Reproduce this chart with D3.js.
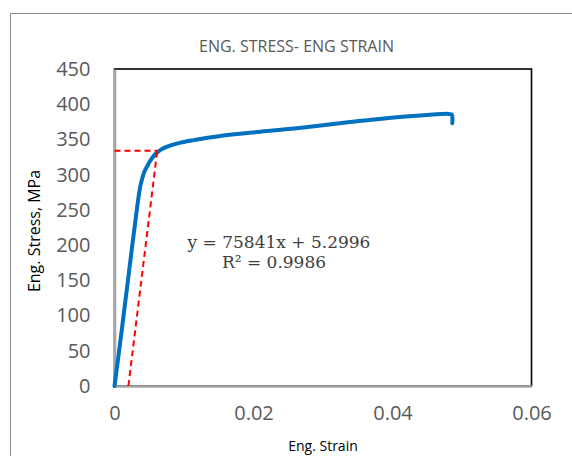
<!DOCTYPE html>
<html>
<head>
<meta charset="utf-8">
<script src="https://cdn.jsdelivr.net/npm/d3@7"></script>
<style>
  body { margin: 0; background: #fff; }
  svg { display: block; }
</style>
</head>
<body>
<script>
// engineering stress-strain curve
const strain = [0, 0.00086, 0.00206, 0.00326, 0.0037, 0.0040, 0.0043, 0.0047, 0.0051, 0.0056, 0.0061, 0.0067, 0.0074, 0.0082, 0.0095, 0.0114, 0.0152, 0.021, 0.0268, 0.0306, 0.0355, 0.0402, 0.0445, 0.0469, 0.0478, 0.0485, 0.0486, 0.0486];
const stress = [0, 65, 160, 254, 283, 295, 304, 312, 319, 326, 331, 335.5, 339, 342, 345.5, 349, 355, 361, 366.5, 371, 376.5, 381, 384.5, 386, 386.3, 385.5, 383, 373];

// 0.2% offset line and yield level
const offsetStrain = [0.002, 0.00615];
const offsetStress = [0, 334];
const yieldStrain = [0, 0.00615];
const yieldStress = [334, 334];

const xTicks = [0, 0.02, 0.04, 0.06];
const yTicks = [0, 50, 100, 150, 200, 250, 300, 350, 400, 450];
const fitLines = ["y = 75841x + 5.2996", "R\u00b2 = 0.9986"];

const width = 572, height = 456;
const plotL = 114.5, plotR = 531.5, plotT = 69, plotB = 386;

const x = d3.scaleLinear().domain([0, 0.06]).range([plotL, plotR]);
const y = d3.scaleLinear().domain([0, 450]).range([plotB, plotT]);

const svg = d3.select("body").append("svg")
    .attr("width", width)
    .attr("height", height);

// outer chart frame (cropped on right and bottom)
svg.append("path")
    .attr("d", `M10.5,${height}V13.5H${width}`)
    .attr("fill", "none")
    .attr("stroke", "#8c8c8c")
    .attr("stroke-width", 1);

svg.append("text")
    .attr("x", 296.5)
    .attr("y", 52)
    .attr("text-anchor", "middle")
    .style("font", "16px 'Open Sans'")
    .attr("fill", "#595959")
    .text("ENG. STRESS- ENG STRAIN");

// plot area box
svg.append("rect")
    .attr("x", plotL).attr("y", plotT)
    .attr("width", plotR - plotL).attr("height", plotB - plotT)
    .attr("fill", "none")
    .attr("stroke", "#000")
    .attr("stroke-width", 1.6);

// axes
const yAxis = svg.append("g")
    .attr("transform", `translate(${plotL},0)`)
    .call(d3.axisLeft(y).tickValues(yTicks).tickSize(0).tickPadding(24).tickFormat(d3.format("d")));
yAxis.select(".domain").attr("stroke", "#a6a6a6").attr("stroke-width", 2.6);
yAxis.selectAll("text")
    .style("font", "20px 'Open Sans'")
    .attr("fill", "#595959");

const xAxis = svg.append("g")
    .attr("transform", `translate(0,${plotB})`)
    .call(d3.axisBottom(x).tickValues(xTicks).tickSize(0).tickPadding(20).tickFormat(d => d === 0 ? "0" : d3.format(".2f")(d)));
xAxis.select(".domain").attr("stroke", "#a6a6a6").attr("stroke-width", 2.6);
xAxis.selectAll("text")
    .style("font", "20px 'Open Sans'")
    .attr("fill", "#595959");

// axis titles
svg.append("text")
    .attr("x", (plotL + plotR) / 2)
    .attr("y", 451)
    .attr("text-anchor", "middle")
    .style("font", "14px 'Open Sans'")
    .attr("fill", "#000")
    .text("Eng. Strain");

svg.append("text")
    .attr("transform", `translate(40,231) rotate(-90)`)
    .attr("text-anchor", "middle")
    .style("font", "16px 'Open Sans'")
    .attr("fill", "#000")
    .text("Eng. Stress, MPa");

// curve
const line = d3.line()
    .x(i => x(strain[i]))
    .y(i => y(stress[i]))
    .curve(d3.curveCatmullRom.alpha(0.5));

svg.append("path")
    .attr("d", line(d3.range(strain.length)))
    .attr("fill", "none")
    .attr("stroke", "#0070c0")
    .attr("stroke-width", 4)
    .attr("stroke-linecap", "round")
    .attr("stroke-linejoin", "round");

// red dashed construction lines
const seg = d3.line().x(d => x(d[0])).y(d => y(d[1]));
[[yieldStrain, yieldStress], [offsetStrain, offsetStress]].forEach(([xs, ys]) => {
  svg.append("path")
      .attr("d", seg(d3.zip(xs, ys)))
      .attr("fill", "none")
      .attr("stroke", "#ff0000")
      .attr("stroke-width", 2)
      .attr("stroke-dasharray", "6,4");
});

// trendline equation
svg.append("text")
    .attr("x", 279)
    .attr("y", 248)
    .attr("text-anchor", "middle")
    .style("font", "17px 'DejaVu Serif'")
    .attr("fill", "#404040")
    .text(fitLines[0]);

svg.append("text")
    .attr("x", 274)
    .attr("y", 268)
    .attr("text-anchor", "middle")
    .style("font", "17px 'DejaVu Serif'")
    .attr("fill", "#404040")
    .text(fitLines[1]);
</script>
</body>
</html>
